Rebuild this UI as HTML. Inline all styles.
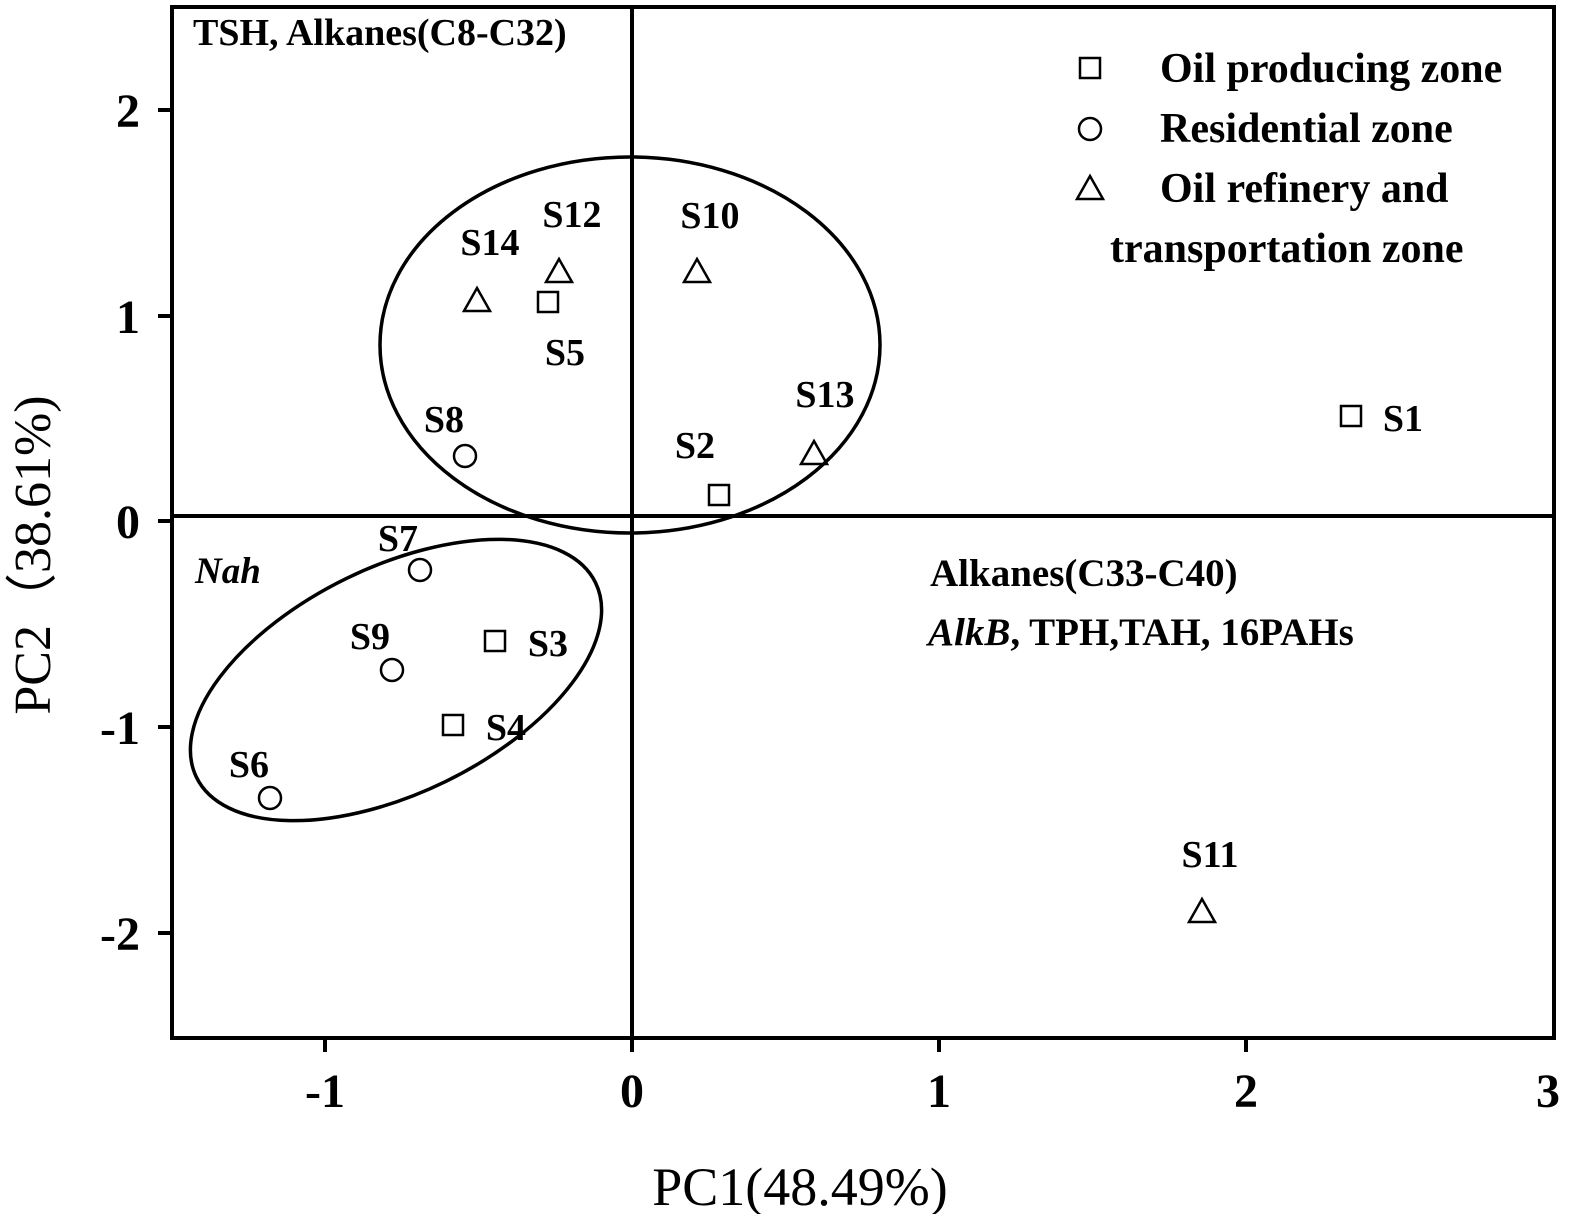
<!DOCTYPE html>
<html><head><style>body{margin:0;background:#fff}svg{display:block}text{font-family:"Liberation Serif",serif;fill:#000}</style></head>
<body>
<svg width="1575" height="1214" viewBox="0 0 1575 1214">
<g stroke="#000" stroke-width="4" fill="none">
<rect x="172" y="7" width="1382" height="1031"/>
<line x1="632" y1="7" x2="632" y2="1038"/>
<line x1="172" y1="516" x2="1554" y2="516"/>
<line x1="325" y1="1038" x2="325" y2="1052"/><line x1="632" y1="1038" x2="632" y2="1052"/><line x1="939" y1="1038" x2="939" y2="1052"/><line x1="1246" y1="1038" x2="1246" y2="1052"/>
<line x1="158" y1="110" x2="172" y2="110"/><line x1="158" y1="316" x2="172" y2="316"/><line x1="158" y1="521" x2="172" y2="521"/><line x1="158" y1="727" x2="172" y2="727"/><line x1="158" y1="933" x2="172" y2="933"/>
<ellipse cx="630" cy="345" rx="250" ry="188" stroke-width="3.5"/>
<ellipse cx="396" cy="680" rx="222" ry="113" transform="rotate(-26 396 680)" stroke-width="3.5"/>
</g>
<g font-size="48" text-anchor="middle" font-weight="bold">
<text x="325" y="1107">-1</text><text x="632" y="1107">0</text><text x="939" y="1107">1</text><text x="1246" y="1107">2</text><text x="1548" y="1107">3</text>
</g>
<g font-size="48" text-anchor="end" font-weight="bold">
<text x="140" y="127">2</text><text x="140" y="333">1</text><text x="140" y="538">0</text><text x="140" y="744">-1</text><text x="140" y="950">-2</text>
</g>
<text x="800" y="1205" font-size="54" text-anchor="middle">PC1(48.49%)</text>
<text transform="translate(50 555) rotate(-90)" font-size="52" text-anchor="middle">PC2（38.61%)</text>
<text x="193" y="45" font-size="38" font-weight="bold">TSH, Alkanes(C8-C32)</text>
<text x="195" y="583" font-size="37" font-style="italic" font-weight="bold">Nah</text>
<text x="930" y="586" font-size="39" font-weight="bold">Alkanes(C33-C40)</text>
<text x="928" y="645" font-size="39" font-weight="bold"><tspan font-style="italic">AlkB</tspan>, TPH,TAH, 16PAHs</text>
<g font-size="42" font-weight="bold">
<text x="1160" y="82">Oil producing zone</text>
<text x="1160" y="142">Residential zone</text>
<text x="1160" y="202">Oil refinery and</text>
<text x="1110" y="262">transportation zone</text>
</g>
<g stroke="#000" stroke-width="2.5" fill="none">
<rect x="1080" y="58" width="20" height="20"/>
<circle cx="1090" cy="129" r="11"/>
<path d="M1090 176 L1103 199 L1077 199 Z"/>
<rect x="1341" y="406" width="20" height="20"/>
<rect x="709" y="485" width="20" height="20"/>
<rect x="485" y="631" width="20" height="20"/>
<rect x="443" y="715" width="20" height="20"/>
<rect x="538" y="292" width="20" height="20"/>
<circle cx="270" cy="798" r="11"/>
<circle cx="420" cy="570" r="11"/>
<circle cx="465" cy="456" r="11"/>
<circle cx="392" cy="670" r="11"/>
<path d="M697 259 L710 282 L684 282 Z"/>
<path d="M1202 899 L1215 922 L1189 922 Z"/>
<path d="M559 259 L572 282 L546 282 Z"/>
<path d="M814 441 L827 464 L801 464 Z"/>
<path d="M477 288 L490 311 L464 311 Z"/>
</g>
<g font-size="38" text-anchor="middle" font-weight="bold">
<text x="1403" y="431">S1</text>
<text x="695" y="458">S2</text>
<text x="548" y="656">S3</text>
<text x="506" y="740">S4</text>
<text x="565" y="365">S5</text>
<text x="249" y="777">S6</text>
<text x="398" y="551">S7</text>
<text x="444" y="432">S8</text>
<text x="370" y="649">S9</text>
<text x="710" y="228">S10</text>
<text x="1210" y="867">S11</text>
<text x="572" y="227">S12</text>
<text x="825" y="407">S13</text>
<text x="490" y="255">S14</text>
</g>
</svg>
</body></html>
